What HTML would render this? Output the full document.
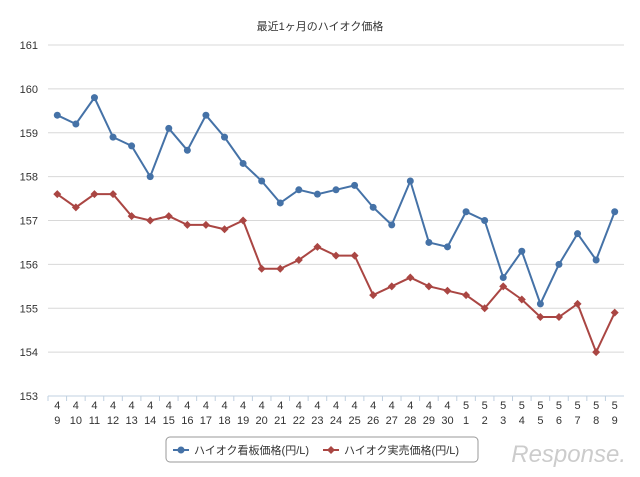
<!DOCTYPE html>
<html><head><meta charset="utf-8"><style>
body{margin:0;background:#fff;font-family:"Liberation Sans","Noto Sans CJK JP",sans-serif;}
svg text{font-family:"Liberation Sans","Noto Sans CJK JP",sans-serif;}
</style></head><body>
<svg id="chart" width="640" height="472">
<text x="320" y="30" text-anchor="middle" font-size="11" fill="#333">最近1ヶ月のハイオク価格</text>
<g id="grid"></g><g id="xlab"></g><g id="series"></g>
<g>
<rect x="166" y="437" width="312" height="25" rx="4" fill="#fff" stroke="#999"/>
<line x1="173" y1="450" x2="189" y2="450" stroke="#4572a7" stroke-width="2"/><circle cx="181" cy="450" r="3.5" fill="#4572a7"/>
<text x="194" y="454" font-size="11" fill="#333">ハイオク看板価格(円/L)</text>
<line x1="323" y1="450" x2="339" y2="450" stroke="#aa4643" stroke-width="2"/><path d="M331 446 L335 450 L331 454 L327 450Z" fill="#aa4643"/>
<text x="344" y="454" font-size="11" fill="#333">ハイオク実売価格(円/L)</text>
</g>
<text x="626" y="462" text-anchor="end" font-size="24" font-style="italic" fill="#ccc">Response.</text>
</svg>
<script>
const categories=["4/9","4/10","4/11","4/12","4/13","4/14","4/15","4/16","4/17","4/18","4/19","4/20","4/21","4/22","4/23","4/24","4/25","4/26","4/27","4/28","4/29","4/30","5/1","5/2","5/3","5/4","5/5","5/6","5/7","5/8","5/9"];
const signboard=[159.4,159.2,159.8,158.9,158.7,158.0,159.1,158.6,159.4,158.9,158.3,157.9,157.4,157.7,157.6,157.7,157.8,157.3,156.9,157.9,156.5,156.4,157.2,157.0,155.7,156.3,155.1,156.0,156.7,156.1,157.2];
const actual=[157.6,157.3,157.6,157.6,157.1,157.0,157.1,156.9,156.9,156.8,157.0,155.9,155.9,156.1,156.4,156.2,156.2,155.3,155.5,155.7,155.5,155.4,155.3,155.0,155.5,155.2,154.8,154.8,155.1,154.0,154.9];
const yTicks=[153,154,155,156,157,158,159,160,161];
const NS="http://www.w3.org/2000/svg";
const L=48,R=624,T=45,B=396,ymin=153,ymax=161;
const bw=(R-L)/categories.length;
const x=i=>L+bw*(i+0.5);
const y=v=>B-(v-ymin)/(ymax-ymin)*(B-T);
function mk(tag,attrs,parent){const e=document.createElementNS(NS,tag);for(const k in attrs)e.setAttribute(k,attrs[k]);parent.appendChild(e);return e;}
const grid=document.getElementById('grid');
yTicks.forEach(t=>{
 const ln=mk('line',{x1:L,x2:R,y1:y(t),y2:y(t),stroke:t===ymin?'#c0d0e0':'#d8d8d8','stroke-width':1},grid);
 
 
 const tx=mk('text',{x:38,y:y(t)+4,'text-anchor':'end','font-size':11,fill:'#333'},grid);
 tx.textContent=t;
 
 
});
const xl=document.getElementById('xlab');
categories.forEach((c,i)=>{
 const tk=mk('line',{x1:L+bw*i,x2:L+bw*i,y1:B,y2:B+5,stroke:'#c0d0e0'},xl);
 
 
 const p=c.split('/');
 const t=mk('text',{x:x(i),y:B+13,'text-anchor':'middle','font-size':11,fill:'#333'},xl);
 
 
 mk('tspan',{x:x(i),dy:0},t).textContent=p[0];
 mk('tspan',{x:x(i),dy:15},t).textContent=p[1];
});
const sg=document.getElementById('series');
function draw(vals,color,shape,name){
 const pl=mk('polyline',{points:vals.map((v,i)=>x(i)+','+y(v)).join(' '),fill:'none',stroke:color,'stroke-width':2},sg);
 
 
 vals.forEach((v,i)=>{
  let m;
  if(shape==='c')m=mk('circle',{cx:x(i),cy:y(v),r:3.5,fill:color},sg);
  else m=mk('path',{d:`M${x(i)} ${y(v)-4}L${x(i)+4} ${y(v)}L${x(i)} ${y(v)+4}L${x(i)-4} ${y(v)}Z`,fill:color},sg);
  
  
 });
}
draw(signboard,'#4572a7','c','signboard-price');
draw(actual,'#aa4643','d','actual-price');
</script>
</body></html>
